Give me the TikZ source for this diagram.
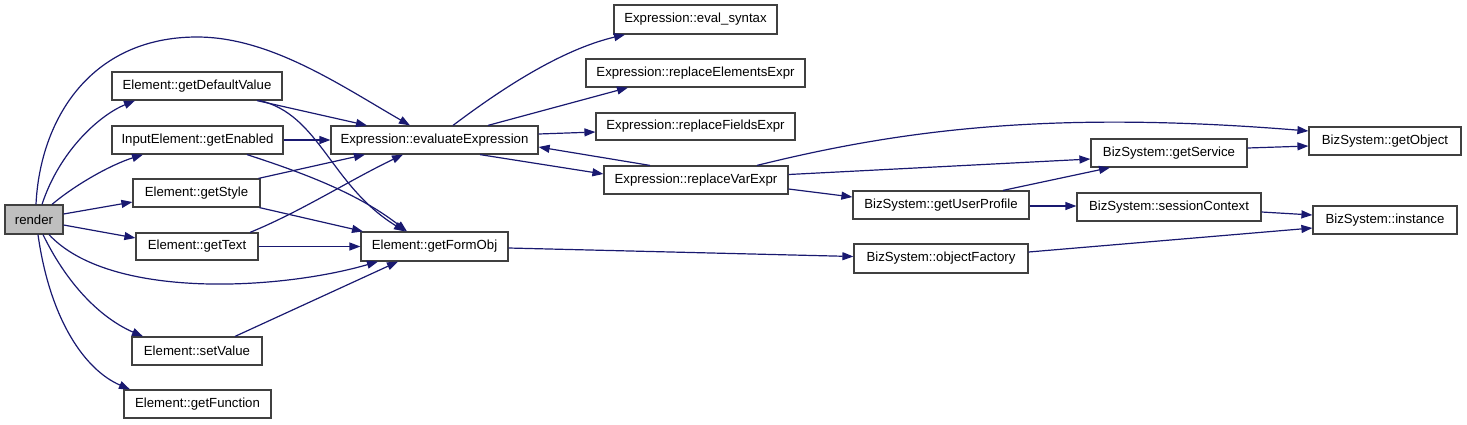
\documentclass[tikz,border=0pt]{standalone}
\usepackage{fontspec}
\setmainfont{Liberation Sans}
\usetikzlibrary{arrows.meta,calc}
\definecolor{edgeblue}{HTML}{191970}
\definecolor{rendergray}{HTML}{BFBFBF}
\begin{document}
\begin{tikzpicture}[x=1pt,y=-1pt,
  box/.style={draw=black!75, line width=1.2pt, fill=white, inner sep=0pt, font=\fontsize{13.2}{15}\selectfont},
  edge/.style={draw=edgeblue, line width=1.2pt, -{Triangle[length=11pt,width=8pt]}}]
\useasboundingbox (0,0) rectangle (1467,424);
% nodes
\node[box, fill=rendergray, minimum width=58pt, minimum height=29pt] (render) at (34,219.5) {render};
\node[box, minimum width=170pt, minimum height=28pt] (gdv) at (197,86) {Element::getDefaultValue};
\node[box, minimum width=171pt, minimum height=28pt] (gen) at (197.5,140) {InputElement::getEnabled};
\node[box, minimum width=127pt, minimum height=28pt] (gst) at (196.5,193) {Element::getStyle};
\node[box, minimum width=122pt, minimum height=27pt] (gtx) at (197,246.5) {Element::getText};
\node[box, minimum width=130pt, minimum height=28pt] (sva) at (197,351) {Element::setValue};
\node[box, minimum width=147pt, minimum height=28pt] (gfn) at (197.5,404) {Element::getFunction};
\node[box, minimum width=207pt, minimum height=28pt] (eve) at (434.5,140) {Expression::evaluateExpression};
\node[box, minimum width=147pt, minimum height=29pt] (gfo) at (434.5,246.5) {Element::getFormObj};
\node[box, minimum width=163pt, minimum height=29pt] (evs) at (695.5,19.5) {Expression::eval\_syntax};
\node[box, minimum width=219pt, minimum height=28pt] (ree) at (695.5,73) {Expression::replaceElementsExpr};
\node[box, minimum width=199pt, minimum height=27pt] (rfe) at (695.5,126.5) {Expression::replaceFieldsExpr};
\node[box, minimum width=184pt, minimum height=28pt] (rve) at (696,180) {Expression::replaceVarExpr};
\node[box, minimum width=176pt, minimum height=28pt] (gup) at (941,205) {BizSystem::getUserProfile};
\node[box, minimum width=174pt, minimum height=29pt] (ofa) at (941,258.5) {BizSystem::objectFactory};
\node[box, minimum width=156pt, minimum height=28pt] (gsv) at (1169,153) {BizSystem::getService};
\node[box, minimum width=184pt, minimum height=28pt] (sco) at (1169,207) {BizSystem::sessionContext};
\node[box, minimum width=152pt, minimum height=28pt] (gob) at (1385,141) {BizSystem::getObject};
\node[box, minimum width=144pt, minimum height=28pt] (ins) at (1385,220) {BizSystem::instance};
% edges from render
\draw[edge] ($(render.north)+(2,0)$) .. controls (40,120) and (90,37) .. (197,37)
  .. controls (270,37) and (340,85) .. ($(eve.north)+(-24.5,0)$);
\draw[edge] ($(render.north)+(8,0)$) .. controls (60,150) and (100,115) .. ($(gdv.south)+(-62,0)$);
\draw[edge] ($(render.north)+(18,0)$) .. controls (75,185) and (110,165) .. ($(gen.south)+(-54.5,0)$);
\draw[edge] ($(render.east)+(0,-5.5)$) -- ($(gst.west)+(0,9)$);
\draw[edge] ($(render.east)+(0,5.5)$) -- ($(gtx.west)+(0,-8.5)$);
\draw[edge] ($(render.south)+(15,0)$) .. controls (110,300) and (280,290) .. ($(gfo.south)+(-56.5,0)$);
\draw[edge] ($(render.south)+(9,0)$) .. controls (70,290) and (105,320) .. ($(sva.north)+(-54,0)$);
\draw[edge] ($(render.south)+(4,0)$) .. controls (50,320) and (85,370) .. ($(gfn.north)+(-67.5,0)$);
% second column
\draw[edge] ($(gdv.south)+(60,0)$) -- ($(eve.north)+(-67.5,0)$);
\draw[edge] ($(gdv.south)+(63,0)$) .. controls (320,115) and (330,185) .. ($(gfo.north)+(-29.5,0)$);
\draw[edge] (gen.east) -- (eve.west);
\draw[edge] ($(gen.south)+(49.5,0)$) .. controls (310,175) and (360,195) .. ($(gfo.north)+(-27.5,0)$);
\draw[edge] ($(gst.north)+(62,0)$) -- ($(eve.south)+(-69.5,0)$);
\draw[edge] ($(gst.south)+(63,0)$) -- ($(gfo.north)+(-71.5,0)$);
\draw[edge] ($(gtx.north)+(53,0)$) .. controls (300,212) and (350,180) .. ($(eve.south)+(-31.5,0)$);
\draw[edge] (gtx.east) -- (gfo.west);
\draw[edge] ($(sva.north)+(38,0)$) -- ($(gfo.south)+(-36.5,0)$);
% expression
\draw[edge] ($(eve.north)+(18.5,0)$) .. controls (500,90) and (560,50) .. ($(evs.south)+(-70.5,0)$);
\draw[edge] ($(eve.north)+(53.5,0)$) -- ($(ree.south)+(-67.5,0)$);
\draw[edge] ($(eve.east)+(0,-6)$) -- ($(rfe.west)+(0,5.5)$);
\draw[edge] ($(eve.south)+(45.5,0)$) -- ($(rve.west)+(0,-6)$);
\draw[edge] ($(rve.north)+(-46,0)$) -- ($(eve.east)+(0,7)$);
\draw[edge] ($(rve.north)+(61,0)$) .. controls (900,130) and (1050,110) .. ($(gob.west)+(0,-10)$);
\draw[edge] ($(rve.east)+(0,-5.5)$) -- ($(gsv.west)+(0,6)$);
\draw[edge] ($(rve.east)+(0,9)$) -- ($(gup.west)+(0,-8)$);
% biz system
\draw[edge] ($(gup.north)+(62,0)$) -- ($(gsv.south)+(-59,0)$);
\draw[edge] ($(gup.east)+(0,1)$) -- ($(sco.west)+(0,-1)$);
\draw[edge] ($(gsv.east)+(0,-5)$) -- ($(gob.west)+(0,5)$);
\draw[edge] ($(sco.east)+(0,5)$) -- ($(ins.west)+(0,-5)$);
\draw[edge] ($(gfo.east)+(0,1.5)$) -- ($(ofa.west)+(0,-2)$);
\draw[edge] ($(ofa.east)+(0,-6.5)$) -- ($(ins.west)+(0,8)$);
\end{tikzpicture}
\end{document}
